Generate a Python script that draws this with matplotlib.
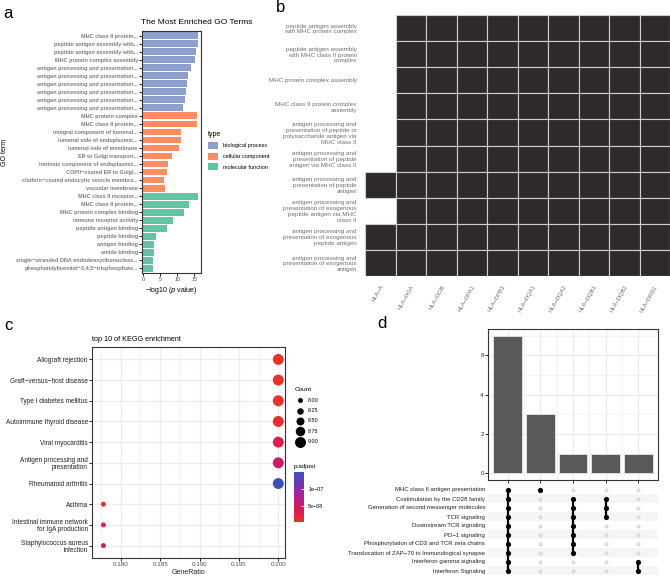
import numpy as np
import matplotlib
matplotlib.use("Agg")
import matplotlib.pyplot as plt
from matplotlib.patches import Patch
from matplotlib.colors import LinearSegmentedColormap, Normalize
from matplotlib.cm import ScalarMappable

plt.rcParams['font.family'] = ['Liberation Sans', 'DejaVu Sans']

W, H = 670, 576

# ---------------- panel a: GO enrichment bars ----------------
go_terms = [
    "MHC class II protein...", "peptide antigen assembly with...", "peptide antigen assembly with...",
    "MHC protein complex assembly", "antigen processing and presentation...",
    "antigen processing and presentation...", "antigen processing and presentation...",
    "antigen processing and presentation...", "antigen processing and presentation...",
    "antigen processing and presentation...",
    "MHC protein complex", "MHC class II protein...", "integral component of lumenal...",
    "lumenal side of endoplasmic...", "lumenal side of membrane", "ER to Golgi transport...",
    "intrinsic component of endoplasmic...", "COPII\u2212coated ER to Golgi...",
    "clathrin\u2212coated endocytic vesicle membra...", "vacuolar membrane",
    "MHC class II receptor...", "MHC class II protein...", "MHC protein complex binding",
    "immune receptor activity", "peptide antigen binding", "peptide binding", "antigen binding",
    "amide binding", "single\u2212stranded DNA endodeoxyribonucleas...",
    "phosphatidylinositol\u22123,4,5\u2212trisphosphate...",
]
go_logp = [16.2, 16.2, 15.6, 15.3, 13.9, 13.2, 12.9, 12.5, 12.3, 11.6,
           15.9, 15.7, 11.2, 11.2, 10.5, 8.4, 7.2, 7.0, 6.2, 6.4,
           16.0, 13.3, 11.9, 8.7, 7.0, 3.8, 3.1, 3.1, 2.7, 2.7]
go_type = ["biological process"] * 10 + ["cellular component"] * 10 + ["molecular function"] * 10
type_names = ["biological process", "cellular component", "molecular function"]
type_colors = {"biological process": "#8da0cb", "cellular component": "#fc8d62",
               "molecular function": "#66c2a5"}

# ---------------- panel b: gene / GO term membership ----------------
hla_genes = ["HLA\u2212A", "HLA\u2212DOA", "HLA\u2212DOB", "HLA\u2212DPA1", "HLA\u2212DPB1",
             "HLA\u2212DQA1", "HLA\u2212DQA2", "HLA\u2212DQB1", "HLA\u2212DQB2", "HLA\u2212DRB1"]
bp_terms = [
    "peptide antigen assembly\nwith MHC protein complex",
    "peptide antigen assembly\nwith MHC class II protein\ncomplex",
    "MHC protein complex assembly",
    "MHC class II protein complex\nassembly",
    "antigen processing and\npresentation of peptide or\npolysaccharide antigen via\nMHC class II",
    "antigen processing and\npresentation of peptide\nantigen via MHC class II",
    "antigen processing and\npresentation of peptide\nantigen",
    "antigen processing and\npresentation of exogenous\npeptide antigen via MHC\nclass II",
    "antigen processing and\npresentation of exogenous\npeptide antigen",
    "antigen processing and\npresentation of exogenous\nantigen",
]
membership = [
    [0, 1, 1, 1, 1, 1, 1, 1, 1, 1],
    [0, 1, 1, 1, 1, 1, 1, 1, 1, 1],
    [0, 1, 1, 1, 1, 1, 1, 1, 1, 1],
    [0, 1, 1, 1, 1, 1, 1, 1, 1, 1],
    [0, 1, 1, 1, 1, 1, 1, 1, 1, 1],
    [0, 1, 1, 1, 1, 1, 1, 1, 1, 1],
    [1, 1, 1, 1, 1, 1, 1, 1, 1, 1],
    [0, 1, 1, 1, 1, 1, 1, 1, 1, 1],
    [1, 1, 1, 1, 1, 1, 1, 1, 1, 1],
    [1, 1, 1, 1, 1, 1, 1, 1, 1, 1],
]

# ---------------- panel c: KEGG dot plot ----------------
kegg_terms = ["Allograft rejection", "Graft\u2212versus\u2212host disease", "Type I diabetes mellitus",
              "Autoimmune thyroid disease", "Viral myocarditis", "Antigen processing and\npresentation",
              "Rheumatoid arthritis", "Asthma", "Intestinal immune network\nfor IgA production",
              "Staphylococcus aureus\ninfection"]
kegg_ratio = [0.2, 0.2, 0.2, 0.2, 0.2, 0.2, 0.2, 0.1778, 0.1778, 0.1778]
kegg_count = [9, 9, 9, 9, 9, 9, 9, 8, 8, 8]
kegg_padj = [3e-9, 5e-9, 6e-9, 9e-9, 3e-8, 5e-8, 1.48e-7, 8e-9, 3e-8, 4.5e-8]

# ---------------- panel d: upset of reactome pathways ----------------
pathways = ["MHC class II antigen presentation", "Costimulation by the CD28 family",
            "Generation of second messenger molecules", "TCR signaling", "Downstream TCR signaling",
            "PD\u22121 signaling", "Phosphorylation of CD3 and TCR zeta chains",
            "Translocation of ZAP\u221270 to Immunological synapse", "Interferon gamma signaling",
            "Interferon Signaling"]
inter_sizes = [7, 3, 1, 1, 1]
inter_sets = [
    list(range(10)),
    [0],
    [1, 2, 3, 4, 5, 6, 7],
    [1, 2, 3],
    [8, 9],
]

fig = plt.figure(figsize=(W / 100, H / 100), dpi=100)


def px_axes(x0, y0, x1, y1):
    return fig.add_axes([x0 / W, 1 - y1 / H, (x1 - x0) / W, (y1 - y0) / H])


def border(ax, color="#333333", lw=0.8):
    for s in ax.spines.values():
        s.set_color(color)
        s.set_linewidth(lw)


# panel letters
for letter, x, y in [("a", 3, 14), ("b", 276, 8), ("c", 4, 325), ("d", 377, 324)]:
    fig.text(x / W, 1 - y / H, letter, fontsize=12, ha="left", va="center")

# ---- a ----
ax_a = px_axes(142, 31, 201, 273)
ypos = np.arange(len(go_terms))
ax_a.barh(ypos, go_logp, height=0.86, color=[type_colors[t] for t in go_type])
ax_a.set_ylim(29.6, -0.6)
ax_a.set_xlim(-0.4, 16.95)
ax_a.set_yticks(ypos)
ax_a.set_yticklabels(go_terms, fontsize=4.0, fontweight="bold", color="#7f7f7f")
ax_a.set_xticks([0, 5, 10, 15])
ax_a.tick_params(axis="x", labelsize=4, length=2, width=0.6, pad=1, labelcolor="#4d4d4d")
ax_a.tick_params(axis="y", length=2, width=0.6, pad=1)
border(ax_a)
ax_a.set_xlabel("\u2212log10 ($\\it{p}$ value)", fontsize=5, labelpad=2)
ax_a.set_ylabel("GO term", fontsize=5, labelpad=2)
ax_a.yaxis.set_label_coords(-134 / 59, 0.5)
fig.text(141 / W, 1 - 22 / H, "The Most Enriched GO Terms", fontsize=6, ha="left", va="center")
handles = [Patch(facecolor=type_colors[t], edgecolor="none") for t in type_names]
leg = ax_a.legend(handles, type_names, title="type", loc="upper left",
                  bbox_to_anchor=(206 / W, 1 - 129 / H), bbox_transform=fig.transFigure,
                  frameon=False, fontsize=4, title_fontsize=5, handlelength=1.8,
                  handleheight=1.6, labelspacing=0.65, handletextpad=0.85, alignment="left",
                  borderaxespad=0)

# ---- b ----
ax_b = px_axes(365, 15, 670, 276)
mem = np.array(membership)
for r in range(mem.shape[0]):
    cols = np.nonzero(mem[r])[0]
    ax_b.bar(cols, 1, bottom=r, width=1, align="edge", color="#2e2a2a",
             edgecolor="#cfcfcf", linewidth=0.8)
ax_b.set_xlim(0, 10)
ax_b.set_ylim(10, 0)
for s in ax_b.spines.values():
    s.set_visible(False)
ax_b.set_yticks(np.arange(10) + 0.5)
ax_b.set_yticklabels(bp_terms, fontsize=4.5, color="#707070", ha="right", linespacing=1.2)
ax_b.set_xticks(np.arange(10) + 0.5)
ax_b.set_xticklabels(hla_genes, fontsize=4.2, color="#707070", rotation=60, ha="right",
                     va="top", rotation_mode="anchor")
ax_b.tick_params(length=0, pad=6)

# ---- c ----
ax_c = px_axes(92, 347, 285, 558)
cmap_c = LinearSegmentedColormap.from_list(
    "padj", ["#e8332a", "#d81b55", "#b51c92", "#7434b0", "#3c52b8"])
norm_c = Normalize(vmin=3e-9, vmax=1.48e-7)
ky = np.arange(len(kegg_terms))[::-1] + 1
sizes = [(3.6 + (c - 8) * 4.3) ** 2 for c in kegg_count]
ax_c.set_axisbelow(True)
ax_c.scatter(kegg_ratio, ky, s=sizes, c=kegg_padj, cmap=cmap_c, norm=norm_c,
             linewidths=0, zorder=3)
ax_c.set_xlim(0.17635, 0.20085)
ax_c.set_ylim(0.4, 10.6)
ax_c.set_xticks([0.180, 0.185, 0.190, 0.195, 0.200])
ax_c.set_xticklabels(["0.180", "0.185", "0.190", "0.195", "0.200"])
ax_c.set_xticks(np.arange(0.1775, 0.2001, 0.005), minor=True)
ax_c.set_yticks(ky)
ax_c.set_yticklabels(kegg_terms, fontsize=4.7, color="#222222", linespacing=1.0)
ax_c.tick_params(axis="x", labelsize=4.5, length=2, width=0.6, pad=1, labelcolor="#4d4d4d")
ax_c.tick_params(axis="x", which="minor", length=0)
ax_c.tick_params(axis="y", length=2, width=0.6, pad=1)
ax_c.grid(which="major", color="#ebebeb", linewidth=0.9)
ax_c.grid(which="minor", axis="x", color="#f2f2f2", linewidth=0.6)
border(ax_c)
ax_c.set_xlabel("GeneRatio", fontsize=5, labelpad=1, color="#222222")
ax_c.set_title("top 10 of KEGG enrichment", fontsize=5.2, loc="left", pad=4)

cnt_vals = [8.00, 8.25, 8.50, 8.75, 9.00]
cnt_handles = [ax_c.scatter([], [], s=(3.6 + (v - 8) * 4.3) ** 2, color="black", linewidths=0)
               for v in cnt_vals]
ax_c.legend(cnt_handles, ["%.2f" % v for v in cnt_vals], title="Count", loc="upper left",
            bbox_to_anchor=(292 / W, 1 - 385 / H), bbox_transform=fig.transFigure,
            frameon=False, fontsize=3.9, title_fontsize=4.6, labelspacing=1.0,
            handletextpad=0.6, alignment="left", borderaxespad=0, scatterpoints=1)

cax = px_axes(294, 472, 304, 522)
cb = fig.colorbar(ScalarMappable(norm=norm_c, cmap=cmap_c), cax=cax, ticks=[5e-8, 1e-7])
cb.outline.set_visible(False)
cb.ax.set_yticklabels(["5e\u221208", "1e\u221207"])
cb.ax.tick_params(labelsize=3.9, length=2, width=0.6, color="white", direction="in", pad=3)
cax.set_title("p.adjust", fontsize=4.6, loc="left", pad=3)

# ---- d ----
ax_d = px_axes(488, 329, 658, 480)
xi = np.arange(1, len(inter_sizes) + 1)
ax_d.set_axisbelow(True)
ax_d.bar(xi, inter_sizes, width=0.88, color="#595959", edgecolor="#e6e6e6", linewidth=0.6)
ax_d.set_xlim(0.4, 5.6)
ax_d.set_ylim(-0.35, 7.35)
ax_d.set_xticks(xi)
ax_d.set_xticklabels([])
ax_d.set_yticks([0, 2, 4, 6])
ax_d.set_yticks([1, 3, 5, 7], minor=True)
ax_d.set_xticks(xi[:-1] + 0.5, minor=True)
ax_d.tick_params(which="minor", length=0)
ax_d.tick_params(labelsize=4.5, length=2, width=0.6, pad=1, labelcolor="#222222")
ax_d.grid(which="major", color="#ebebeb", linewidth=0.9)
ax_d.grid(which="minor", color="#f2f2f2", linewidth=0.6)
border(ax_d)

ax_m = px_axes(488, 485, 658, 575)
ax_m.set_xlim(0.4, 5.6)
ax_m.set_ylim(9.5, -0.5)
for r in range(1, len(pathways), 2):
    ax_m.axhspan(r - 0.5, r + 0.5, color="#f5f5f5", linewidth=0, zorder=0)
for k, rows in enumerate(inter_sets):
    col = xi[k]
    inactive = [r for r in range(len(pathways)) if r not in rows]
    ax_m.scatter([col] * len(inactive), inactive, s=9, color="#dcdcdc", linewidths=0, zorder=2)
    ax_m.plot([col, col], [min(rows), max(rows)], color="black", linewidth=1.6, zorder=3)
    ax_m.scatter([col] * len(rows), rows, s=14, color="black", linewidths=0, zorder=4)
ax_m.set_yticks(np.arange(len(pathways)))
ax_m.set_yticklabels(pathways, fontsize=4.3, color="#222222")
ax_m.set_xticks([])
ax_m.tick_params(length=0, pad=2)
for s in ax_m.spines.values():
    s.set_visible(False)

fig.savefig("out.png", dpi=100)
